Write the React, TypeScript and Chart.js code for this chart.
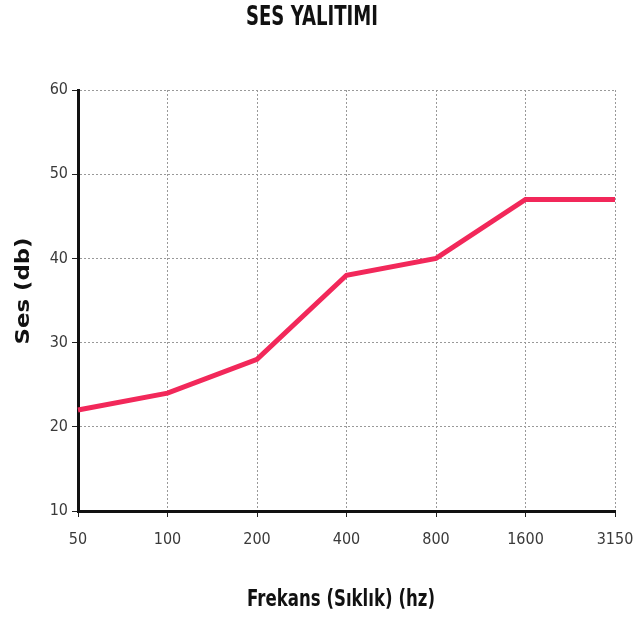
import React, { useEffect, useRef } from "react";
import { Chart, registerables } from "chart.js";

Chart.register(...registerables);

const frequencies = ["50", "100", "200", "400", "800", "1600", "3150"];
const soundValues = [22, 24, 28, 38, 40, 47, 47];
const chartTitle = "SES YALITIMI";
const xTitle = "Frekans (Sıklık) (hz)";
const yTitle = "Ses (db)";

const condensed = "'DejaVu Sans Condensed', 'DejaVu Sans', sans-serif";
const bold = "'DejaVu Sans', sans-serif";

function drawFitted(ctx: any, text: string, font: string, cx: number, cy: number, targetW: number, rot: number) {
  ctx.save();
  ctx.font = font;
  ctx.fillStyle = "#111";
  ctx.textAlign = "center";
  ctx.textBaseline = "middle";
  const w = ctx.measureText(text).width;
  ctx.translate(cx, cy);
  ctx.rotate(rot);
  ctx.scale(targetW / w, 1);
  ctx.fillText(text, 0, 0);
  ctx.restore();
}

const titlesPlugin = {
  id: "customTitles",
  afterDraw(chart: any) {
    const ctx = chart.ctx;
    drawFitted(ctx, chartTitle, `bold 26px ${bold}`, 312, 18, 132, 0);
    drawFitted(ctx, xTitle, `bold 23px ${bold}`, 341, 600, 188, 0);
    drawFitted(ctx, yTitle, `bold 19px ${bold}`, 24, 291, 107, -Math.PI / 2);
  },
};

export default function App() {
  const ref = useRef<HTMLCanvasElement>(null);
  useEffect(() => {
    const chart = new Chart(ref.current!, {
      type: "line",
      data: {
        labels: frequencies,
        datasets: [
          {
            data: soundValues,
            borderColor: "#f2285a",
            borderWidth: 5,
            pointRadius: 0,
            tension: 0,
            fill: false,
          },
        ],
      },
      options: {
        animation: false,
        responsive: false,
        maintainAspectRatio: false,
        layout: { padding: { top: 90, right: 27, left: 0, bottom: 0 } },
        plugins: { legend: { display: false }, tooltip: { enabled: false }, title: { display: false } },
        scales: {
          x: {
            offset: false,
            afterFit: (s: any) => {
              s.height = 109;
              s.paddingRight = 0;
              s.paddingLeft = 0;
            },
            grid: {
              color: "#999",
              lineWidth: 1,
              tickColor: "#222",
              tickLength: 6,
            } as any,
            border: { color: "#111", width: 3, dash: [2, 2] } as any,
            ticks: { color: "#3a3a3a", font: { family: condensed, size: 16 }, padding: 13, maxRotation: 0 },
          },
          y: {
            min: 10,
            max: 60,
            afterFit: (s: any) => {
              s.width = 78;
              s.paddingTop = 0;
              s.paddingBottom = 0;
            },
            grid: {
              color: "#999",
              lineWidth: 1,
              tickColor: "#222",
              tickLength: 6,
            } as any,
            border: { color: "#111", width: 3, dash: [2, 2] } as any,
            ticks: { stepSize: 10, color: "#3a3a3a", font: { family: condensed, size: 16 }, padding: 4 },
          },
        },
      },
      plugins: [titlesPlugin],
    });
    return () => chart.destroy();
  }, []);
  return (
    <div style={{ position: "fixed", left: 0, top: 0, width: 642, height: 620, background: "#fff" }}>
      <canvas ref={ref} width={642} height={620} style={{ width: 642, height: 620 }} />
    </div>
  );
}
